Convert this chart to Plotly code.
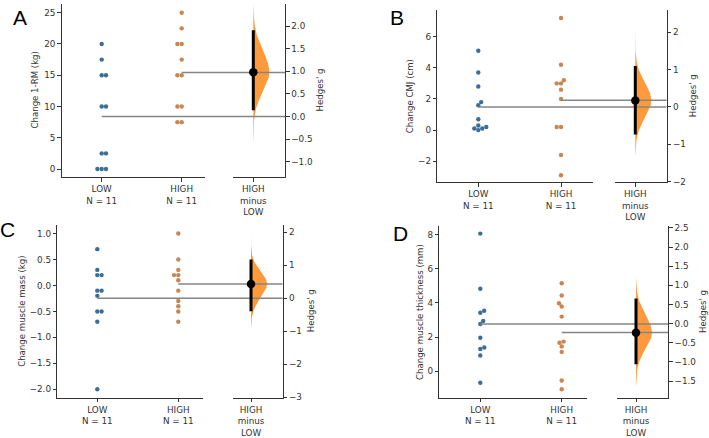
import numpy as np
import plotly.graph_objects as go

W, H = 709, 438

# ---------------- data ----------------
group_names = ["LOW", "HIGH"]
delta_name = "HIGH<br>minus<br>LOW"

a_low = [20, 17.5, 15, 15, 10, 10, 2.5, 2.5, 0, 0, 0]
a_high = [25, 22.5, 20, 20, 17.5, 15, 15, 10, 10, 7.5, 7.5]
a_hedges = [0.98, 0.14, 1.91]          # estimate, CI low, CI high
a_boot_range = [-0.6, 2.5]

b_low = [5.1, 3.7, 2.8, 1.8, 1.6, 0.7, 0.3, 0.1, 0.0, 0.1, 0.2]
b_high = [7.2, 4.2, 3.2, 3.0, 3.0, 2.6, 2.0, 0.2, 0.2, -1.6, -2.9]
b_hedges = [0.17, -0.74, 1.09]
b_boot_range = [-1.3, 2.45]

c_low = [0.7, 0.3, 0.2, 0.2, -0.1, -0.1, -0.2, -0.5, -0.5, -0.7, -2.0]
c_high = [1.0, 0.5, 0.3, 0.2, 0.2, 0.1, -0.1, -0.3, -0.4, -0.5, -0.7]
c_hedges = [0.43, -0.40, 1.17]
c_boot_range = [-0.9, 2.07]

d_low = [8.05, 4.83, 3.54, 3.43, 2.95, 2.77, 1.97, 1.40, 1.31, 0.93, -0.66]
d_high = [5.15, 4.43, 3.98, 3.79, 3.20, 1.74, 1.67, 1.46, 1.14, -0.53, -1.04]
d_hedges = [-0.24, -1.06, 0.66]
d_boot_range = [-1.65, 1.36]

ylabels = ["Change 1-RM (kg)", "Change CMJ (cm)",
           "Change muscle mass (kg)", "Change muscle thickness (mm)"]
letters = ["A", "B", "C", "D"]

# ---------------- layout / styling ----------------
LOW_C = "#3b6e99"
HIGH_C = "#c98650"
VIOLIN_C = "#ff9a3c"
LINE_C = "#858585"
AX_C = "#333333"
FONT = "DejaVu Sans"
TICK_SIZE = 8.8
LAB_SIZE = 8.6

geo = [
    dict(left=61.7, swr=205, dl=233.3, right=285, top=1, bottom=179,
         lowpx=101.7, highpx=181.7, deltapx=253.3,
         ys=[-1.29, 26.4], yd=[-1.34, 2.49], ys_dt=5, ys_fmt="", yd_dt=0.5, yd_fmt=".1f",
         letter=(20, 15), ylab_x=35, glab_x=320),
    dict(left=437.3, swr=593.3, dl=615, right=666.7, top=7.3, bottom=184.3,
         lowpx=478.3, highpx=561, deltapx=635.3,
         ys=[-3.35, 7.71], yd=[-2.02, 2.59], ys_dt=2, ys_fmt="", yd_dt=1, yd_fmt="",
         letter=(397, 15), ylab_x=410, glab_x=693),
    dict(left=57.3, swr=203.3, dl=233.3, right=282.7, top=228, bottom=405.7,
         lowpx=97.3, highpx=178.3, deltapx=251,
         ys=[-2.16, 1.17], yd=[-3.01, 2.22], ys_dt=0.5, ys_fmt=".1f", yd_dt=1, yd_fmt="",
         letter=(7.5, 233), ylab_x=21.7, glab_x=311),
    dict(left=439.3, swr=586.7, dl=616.7, right=668.3, top=229.7, bottom=405.7,
         lowpx=480.3, highpx=561.7, deltapx=636,
         ys=[-1.53, 8.47], yd=[-1.93, 2.54], ys_dt=2, ys_fmt="", yd_dt=0.5, yd_fmt=".1f",
         letter=(400, 237), ylab_x=420, glab_x=703),
]

datasets = [
    (a_low, a_high, a_hedges, a_boot_range),
    (b_low, b_high, b_hedges, b_boot_range),
    (c_low, c_high, c_hedges, c_boot_range),
    (d_low, d_high, d_hedges, d_boot_range),
]

DOT = 4.4        # marker diameter px
SPACING = 4.3    # swarm spacing px
VIOLIN_W = 16    # px


def swarm_offsets(vals, ppu_y, d, prefer):
    vals = np.asarray(vals, float)
    order = np.argsort(vals, kind="stable")
    placed = []
    offs = np.zeros(len(vals))
    for i in order:
        y = vals[i] * ppu_y
        cands = [0.0]
        for (px, py) in placed:
            dy = abs(y - py)
            if dy < d:
                dx = np.sqrt(d * d - dy * dy)
                cands += [px + dx, px - dx]
        cands.sort(key=lambda c: (round(abs(c), 6), -prefer * np.sign(c)))
        chosen = cands[-1]
        for c in cands:
            if all((c - px) ** 2 + (y - py) ** 2 >= d * d - 1e-6 for px, py in placed):
                chosen = c
                break
        offs[i] = chosen
        placed.append((chosen, y))
    return offs


fig = go.Figure()
layout = dict(
    width=W, height=H, margin=dict(l=0, r=0, t=0, b=0),
    paper_bgcolor="white", plot_bgcolor="rgba(0,0,0,0)",
    showlegend=False, annotations=[],
    font=dict(family=FONT, color=AX_C, size=TICK_SIZE),
)


def axkey(prefix, n):
    return prefix + "axis" + ("" if n == 1 else str(n))


def axid(prefix, n):
    return prefix + ("" if n == 1 else str(n))


for p, (g, (low, high, hedges, brange)) in enumerate(zip(geo, datasets)):
    nxs, nxd, nxf = 3 * p + 1, 3 * p + 2, 3 * p + 3
    nys, nyd = 2 * p + 1, 2 * p + 2
    xs, xd, xf = axid("x", nxs), axid("x", nxd), axid("x", nxf)
    ys, yd = axid("y", nys), axid("y", nyd)

    ppu_x = g["highpx"] - g["lowpx"]
    xs_range = [(g["left"] - g["lowpx"]) / ppu_x, (g["swr"] - g["lowpx"]) / ppu_x]
    xd_range = [(g["dl"] - g["lowpx"]) / ppu_x, (g["right"] - g["lowpx"]) / ppu_x]
    delta_x = (g["deltapx"] - g["lowpx"]) / ppu_x
    ydom = [1 - g["bottom"] / H, 1 - g["top"] / H]
    ppu_y = (g["bottom"] - g["top"]) / (g["ys"][1] - g["ys"][0])

    common = dict(showgrid=False, zeroline=False, showline=True, linecolor=AX_C,
                  linewidth=1, ticks="outside", ticklen=3.5, tickwidth=1, tickcolor=AX_C,
                  tickfont=dict(family=FONT, size=TICK_SIZE, color=AX_C))

    layout[axkey("x", nxs)] = dict(common, domain=[g["left"] / W, g["swr"] / W],
                                   range=xs_range, anchor=ys, tickmode="array",
                                   tickvals=[0, 1],
                                   ticktext=[f"{group_names[0]}<br>N = {len(low)}",
                                             f"{group_names[1]}<br>N = {len(high)}"])
    layout[axkey("x", nxd)] = dict(common, domain=[g["dl"] / W, g["right"] / W],
                                   range=xd_range, anchor=yd, tickmode="array",
                                   tickvals=[delta_x], ticktext=[delta_name])
    layout[axkey("x", nxf)] = dict(domain=[g["left"] / W, g["right"] / W],
                                   range=[xs_range[0], xd_range[1]], anchor=ys,
                                   visible=False, showgrid=False, zeroline=False)
    layout[axkey("y", nys)] = dict(common, domain=ydom, range=g["ys"], anchor=xs,
                                   side="left", dtick=g["ys_dt"], tick0=0,
                                   tickformat=g["ys_fmt"])
    layout[axkey("y", nyd)] = dict(common, domain=ydom, range=g["yd"], anchor=xd,
                                   side="right", dtick=g["yd_dt"], tick0=0,
                                   tickformat=g["yd_fmt"])

    # swarm points
    for gi, (vals, col, pref) in enumerate([(low, LOW_C, 1), (high, HIGH_C, -1)]):
        offs = swarm_offsets(vals, ppu_y, SPACING, pref) / ppu_x
        fig.add_trace(go.Scatter(x=gi + offs, y=vals, mode="markers",
                                 marker=dict(size=DOT, color=col, line=dict(width=0)),
                                 xaxis=xs, yaxis=ys, hoverinfo="skip"))

    # half violin of bootstrap distribution
    est, lo, hi = hedges
    sdl, sdu = (est - lo) / 1.96, (hi - est) / 1.96
    gg = np.linspace(brange[0], brange[1], 300)
    sd = np.where(gg < est, sdl, sdu)
    wpx = VIOLIN_W * np.exp(-0.5 * ((gg - est) / sd) ** 2)
    vx = np.concatenate([delta_x + wpx / ppu_x, [delta_x, delta_x]])
    vy = np.concatenate([gg, [brange[1], brange[0]]])
    fig.add_trace(go.Scatter(x=vx, y=vy, mode="lines", fill="toself",
                             fillcolor=VIOLIN_C, line=dict(width=0, color=VIOLIN_C),
                             xaxis=xd, yaxis=yd, hoverinfo="skip"))

    # mean reference lines
    m_low, m_high = float(np.mean(low)), float(np.mean(high))
    for gi, m in [(0, m_low), (1, m_high)]:
        fig.add_trace(go.Scatter(x=[gi, xd_range[1]], y=[m, m], mode="lines",
                                 line=dict(color=LINE_C, width=1.5),
                                 xaxis=xf, yaxis=ys, hoverinfo="skip"))

    # CI bar and effect size
    fig.add_trace(go.Scatter(x=[delta_x, delta_x], y=[lo, hi], mode="lines",
                             line=dict(color="black", width=3),
                             xaxis=xf, yaxis=yd, hoverinfo="skip"))
    fig.add_trace(go.Scatter(x=[delta_x], y=[est], mode="markers",
                             marker=dict(size=8.5, color="black"),
                             xaxis=xf, yaxis=yd, hoverinfo="skip", cliponaxis=False))

    ymid = 1 - (g["top"] + g["bottom"]) / 2 / H
    layout["annotations"] += [
        dict(text=ylabels[p], x=g["ylab_x"] / W, y=ymid, xref="paper", yref="paper",
             textangle=-90, showarrow=False, xanchor="center", yanchor="middle",
             font=dict(family=FONT, size=LAB_SIZE, color=AX_C)),
        dict(text="Hedges' g", x=g["glab_x"] / W, y=ymid, xref="paper", yref="paper",
             textangle=-90, showarrow=False, xanchor="center", yanchor="middle",
             font=dict(family=FONT, size=LAB_SIZE, color=AX_C)),
        dict(text=letters[p], x=g["letter"][0] / W, y=1 - g["letter"][1] / H,
             xref="paper", yref="paper", showarrow=False, xanchor="center",
             yanchor="middle", font=dict(family="Liberation Sans", size=21, color="black")),
    ]

fig.update_layout(**layout)
fig.write_html("out.html", config=dict(displayModeBar=False),
               post_script="document.body.style.margin='0';"
                           "document.body.style.overflow='hidden';")
